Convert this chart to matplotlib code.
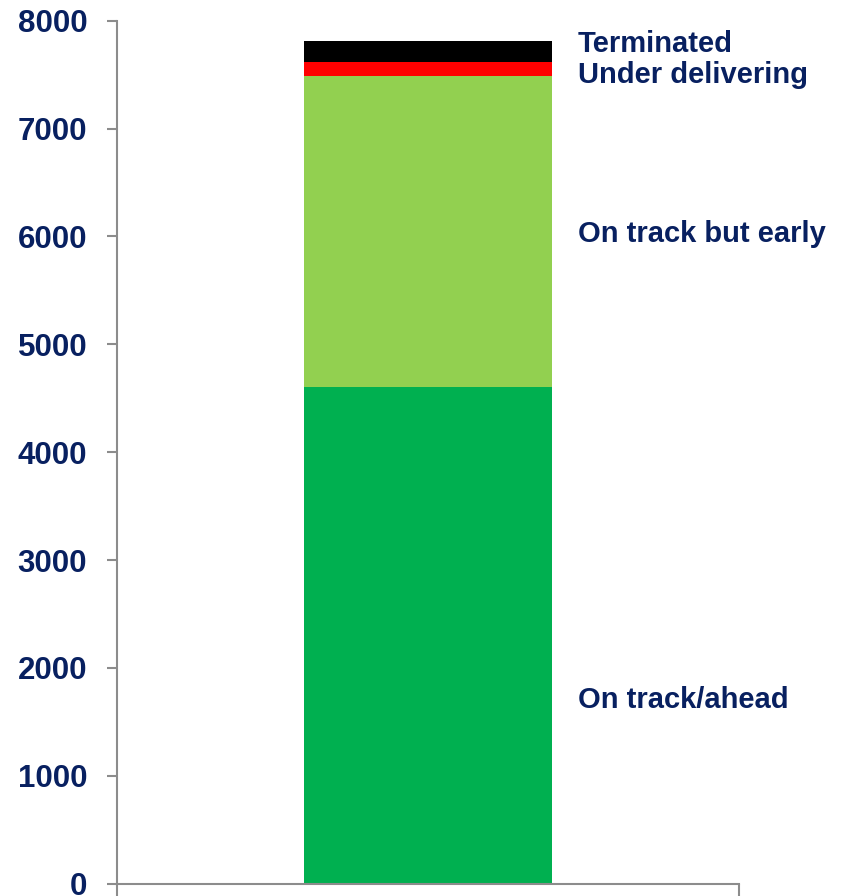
import matplotlib.pyplot as plt

plt.rcParams['font.family'] = ['Liberation Sans', 'DejaVu Sans']

# stacked segments, bottom to top
segments = ['On track/ahead', 'On track but early', 'Under delivering', 'Terminated']
values = [4600, 2890, 130, 195]
colors = ['#00B050', '#92D050', '#FF0000', '#000000']
label_y = [1700, 6020, 7495, 7780]

navy = '#082060'
axis_grey = '#8C8C8C'

fig = plt.figure(figsize=(8.42, 8.96), dpi=100)
ax = fig.add_axes([0.139, 0.0137, 0.7387, 0.9632])

bottom = 0
for name, v, c in zip(segments, values, colors):
    ax.bar(0, v, width=0.4, bottom=bottom, color=c, linewidth=0)
    bottom += v

for name, y in zip(segments, label_y):
    ax.text(0.241, y, name, color=navy, fontsize=21, fontweight='bold',
            ha='left', va='center', clip_on=False)

ax.set_xlim(-0.5, 0.5)
ax.set_ylim(0, 8000)
ax.set_yticks(range(0, 8001, 1000))
ax.set_xticks([-0.5, 0.5])
ax.set_xticklabels([])

ax.spines['top'].set_visible(False)
ax.spines['right'].set_visible(False)
for s in ['left', 'bottom']:
    ax.spines[s].set_color(axis_grey)
    ax.spines[s].set_linewidth(1.5)

ax.tick_params(axis='y', direction='out', length=7.5, width=1.5, color=axis_grey,
               labelsize=22.5, labelcolor=navy, pad=14)
ax.tick_params(axis='x', direction='out', length=9, width=1.5, color=axis_grey)
for lab in ax.get_yticklabels():
    lab.set_fontweight('bold')

fig.savefig('out.png', dpi=100)
